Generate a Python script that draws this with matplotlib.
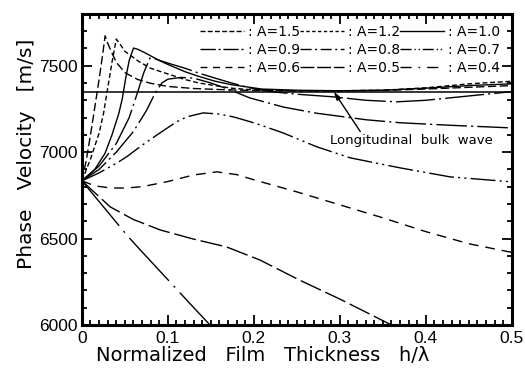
import matplotlib
matplotlib.use("Agg")
import matplotlib.pyplot as plt
from matplotlib.lines import Line2D
from matplotlib.ticker import MultipleLocator

# values (x = h/lambda, y = phase velocity m/s)
x_15 = [0, 0.005, 0.01, 0.015, 0.02, 0.024, 0.027, 0.030, 0.035, 0.04, 0.05, 0.065, 0.08, 0.1, 0.13, 0.17, 0.2, 0.25, 0.3, 0.35, 0.4, 0.45, 0.5]
y_15 = [6834, 6950, 7100, 7260, 7420, 7560, 7673, 7630, 7573, 7520, 7460, 7420, 7398, 7380, 7368, 7360, 7357, 7355, 7355, 7357, 7365, 7375, 7385]

x_12 = [0, 0.01, 0.02, 0.025, 0.03, 0.035, 0.040, 0.045, 0.05, 0.066, 0.08, 0.097, 0.12, 0.136, 0.174, 0.2, 0.25, 0.3, 0.35, 0.4, 0.45, 0.5]
y_12 = [6834, 6960, 7110, 7220, 7370, 7520, 7654, 7620, 7583, 7525, 7485, 7457, 7420, 7400, 7370, 7360, 7355, 7355, 7358, 7372, 7395, 7410]

x_10 = [0, 0.015, 0.027, 0.035, 0.043, 0.047, 0.051, 0.055, 0.06, 0.065, 0.074, 0.09, 0.101, 0.12, 0.136, 0.155, 0.174, 0.209, 0.25, 0.3, 0.35, 0.4, 0.45, 0.5]
y_10 = [6834, 6900, 6994, 7100, 7225, 7310, 7430, 7530, 7602, 7595, 7573, 7530, 7505, 7465, 7438, 7410, 7390, 7365, 7358, 7355, 7358, 7370, 7385, 7395]

x_09 = [0, 0.02, 0.04, 0.055, 0.065, 0.072, 0.079, 0.085, 0.1, 0.12, 0.136, 0.155, 0.174, 0.195, 0.22, 0.25, 0.292, 0.33, 0.366, 0.4, 0.428, 0.46, 0.5]
y_09 = [6834, 6920, 7050, 7200, 7350, 7460, 7544, 7540, 7515, 7485, 7457, 7428, 7400, 7372, 7350, 7335, 7320, 7300, 7291, 7300, 7314, 7330, 7350]

x_08 = [0, 0.02, 0.04, 0.06, 0.075, 0.085, 0.093, 0.1, 0.115, 0.13, 0.15, 0.175, 0.195, 0.235, 0.273, 0.331, 0.37, 0.43, 0.5]
y_08 = [6834, 6900, 7000, 7120, 7240, 7340, 7400, 7422, 7432, 7428, 7400, 7355, 7314, 7260, 7225, 7187, 7170, 7155, 7140]

x_07 = [0, 0.02, 0.04, 0.052, 0.07, 0.091, 0.11, 0.122, 0.141, 0.16, 0.176, 0.195, 0.207, 0.234, 0.273, 0.312, 0.37, 0.428, 0.5]
y_07 = [6834, 6880, 6935, 6973, 7040, 7112, 7175, 7204, 7227, 7220, 7204, 7177, 7158, 7111, 7031, 6967, 6909, 6857, 6828]

x_06 = [0, 0.015, 0.033, 0.05, 0.07, 0.1, 0.13, 0.157, 0.18, 0.2, 0.25, 0.3, 0.35, 0.4, 0.45, 0.5]
y_06 = [6834, 6805, 6793, 6792, 6800, 6830, 6868, 6886, 6870, 6840, 6770, 6695, 6620, 6540, 6470, 6420]

x_05 = [0, 0.033, 0.06, 0.091, 0.129, 0.168, 0.207, 0.253, 0.3, 0.36, 0.4]
y_05 = [6834, 6683, 6610, 6550, 6498, 6452, 6376, 6260, 6150, 6000, 5900]

x_04 = [0, 0.054, 0.07, 0.1, 0.126, 0.149, 0.16]
y_04 = [6834, 6510, 6423, 6262, 6122, 6000, 5945]

labels = ["A=1.5", "A=1.2", "A=1.0", "A=0.9", "A=0.8", "A=0.7", "A=0.6", "A=0.5", "A=0.4"]
bulk_velocity = 7350

xticks = [0, 0.1, 0.2, 0.3, 0.4, 0.5]
xtick_labels = ["0", "0.1", "0.2", "0.3", "0.4", "0.5"]
yticks = [6000, 6500, 7000, 7500]

series = [(x_15, y_15), (x_12, y_12), (x_10, y_10), (x_09, y_09), (x_08, y_08),
          (x_07, y_07), (x_06, y_06), (x_05, y_05), (x_04, y_04)]

# dash patterns: one for the curves, a shorter one for the legend samples
plot_dash = [(0, (6, 2.5)), (0, (3.5, 2)), "-", (0, (28, 3, 1.5, 3)), (0, (22, 3, 1.5, 3)),
             (0, (18, 3, 1.5, 3, 1.5, 3)), (0, (7, 5)), (0, (16, 3.5)), (0, (42, 5, 1.5, 5))]
leg_dash = [(0, (3.6, 1.6)), (0, (2.4, 1.8)), "-", (0, (11, 2, 1.5, 2)), (0, (8, 2.5, 1.5, 2.5)),
            (0, (8, 2, 1, 2, 1, 2)), (0, (5, 4)), (0, (10, 2)), (0, (8, 5, 1.2, 5))]

plt.rcParams["font.family"] = ["Liberation Sans", "DejaVu Sans"]

fig = plt.figure(figsize=(5.25, 3.74), dpi=100)
ax = fig.add_axes([0.156, 0.131, 0.819, 0.832])

for (xs, ys), ls in zip(series, plot_dash):
    ax.plot(xs, ys, color="black", lw=1.0, linestyle=ls)

ax.axhline(bulk_velocity, color="black", lw=1.1)

ax.set_xlim(0, 0.5)
ax.set_ylim(6000, 7800)
ax.set_xticks(xticks)
ax.set_xticklabels(xtick_labels)
ax.set_yticks(yticks)
ax.xaxis.set_minor_locator(MultipleLocator(0.01))
ax.yaxis.set_minor_locator(MultipleLocator(100))
ax.tick_params(which="both", direction="in", top=True, right=True, width=1.3, labelsize=12.5)
ax.tick_params(which="major", length=7, pad=4)
ax.tick_params(axis="y", which="major", pad=3)
ax.tick_params(which="minor", length=3.5)
for s in ax.spines.values():
    s.set_linewidth(2.2)

ax.set_xlabel("Normalized   Film   Thickness   h/\u03bb", fontsize=14, family="DejaVu Sans",
              labelpad=0, x=0.42)
ax.set_ylabel("Phase   Velocity   [m/s]", fontsize=14.5, family="DejaVu Sans",
              labelpad=2, y=0.55)

# legend filled row by row
order = [0, 3, 6, 1, 4, 7, 2, 5, 8]
handles = [Line2D([], [], color="black", lw=1.0, linestyle=leg_dash[i]) for i in order]
leg = ax.legend(handles, [": " + labels[i] for i in order], ncol=3, loc="upper right",
                bbox_to_anchor=(0.972, 0.965), frameon=False, handlelength=3.2,
                handletextpad=0.25, columnspacing=0.0, labelspacing=0.3,
                borderaxespad=0, borderpad=0,
                prop={"family": "DejaVu Sans", "size": 10})

ax.annotate("Longitudinal  bulk  wave", xy=(0.293, bulk_velocity), xytext=(0.288, 7065),
            fontsize=9.5, family="DejaVu Sans", ha="left", va="center",
            arrowprops=dict(arrowstyle="-|>,head_length=0.5,head_width=0.15", color="black",
                            lw=1.0, relpos=(0.2, 1.0), shrinkA=0, shrinkB=0))

fig.savefig("out.png", dpi=100)
